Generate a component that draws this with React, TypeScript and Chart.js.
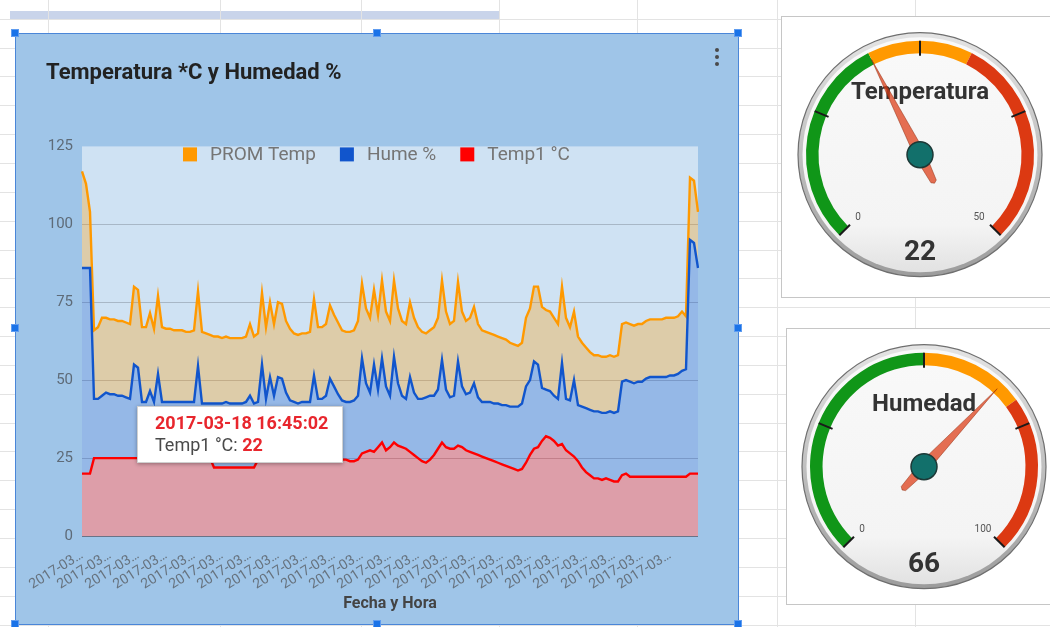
import React, { useEffect, useRef } from "react";
import { Chart, registerables } from "chart.js";

Chart.register(...registerables);

const FONT = "Roboto, 'Liberation Sans', Arial, sans-serif";
Chart.defaults.font.family = FONT;

// ---------------- data ----------------
const CHART_TITLE = "Temperatura *C y Humedad %";
const X_TITLE = "Fecha y Hora";
const SERIES_NAMES = ["PROM Temp", "Hume %", "Temp1 °C"];

const CATEGORIES = [
  "2017-03-17 02:45:02", "2017-03-17 03:45:02", "2017-03-17 04:45:02", "2017-03-17 05:45:02", "2017-03-17 06:45:02", "2017-03-17 07:45:02",
  "2017-03-17 08:45:02", "2017-03-17 09:45:02", "2017-03-17 10:45:02", "2017-03-17 11:45:02", "2017-03-17 12:45:02", "2017-03-17 13:45:02",
  "2017-03-17 14:45:02", "2017-03-17 15:45:02", "2017-03-17 16:45:02", "2017-03-17 17:45:02", "2017-03-17 18:45:02", "2017-03-17 19:45:02",
  "2017-03-17 20:45:02", "2017-03-17 21:45:02", "2017-03-17 22:45:02", "2017-03-17 23:45:02",
  "2017-03-18 00:45:02", "2017-03-18 01:45:02", "2017-03-18 02:45:02", "2017-03-18 03:45:02", "2017-03-18 04:45:02", "2017-03-18 05:45:02",
  "2017-03-18 06:45:02", "2017-03-18 07:45:02", "2017-03-18 08:45:02", "2017-03-18 09:45:02", "2017-03-18 10:45:02", "2017-03-18 11:45:02",
  "2017-03-18 12:45:02", "2017-03-18 13:45:02", "2017-03-18 14:45:02", "2017-03-18 15:45:02", "2017-03-18 16:45:02", "2017-03-18 17:45:02",
  "2017-03-18 18:45:02", "2017-03-18 19:45:02", "2017-03-18 20:45:02", "2017-03-18 21:45:02", "2017-03-18 22:45:02", "2017-03-18 23:45:02",
  "2017-03-19 00:45:02", "2017-03-19 01:45:02", "2017-03-19 02:45:02", "2017-03-19 03:45:02", "2017-03-19 04:45:02", "2017-03-19 05:45:02",
  "2017-03-19 06:45:02", "2017-03-19 07:45:02", "2017-03-19 08:45:02", "2017-03-19 09:45:02", "2017-03-19 10:45:02", "2017-03-19 11:45:02",
  "2017-03-19 12:45:02", "2017-03-19 13:45:02", "2017-03-19 14:45:02", "2017-03-19 15:45:02", "2017-03-19 16:45:02", "2017-03-19 17:45:02",
  "2017-03-19 18:45:02", "2017-03-19 19:45:02", "2017-03-19 20:45:02", "2017-03-19 21:45:02", "2017-03-19 22:45:02", "2017-03-19 23:45:02",
  "2017-03-20 00:45:02", "2017-03-20 01:45:02", "2017-03-20 02:45:02", "2017-03-20 03:45:02", "2017-03-20 04:45:02", "2017-03-20 05:45:02",
  "2017-03-20 06:45:02", "2017-03-20 07:45:02", "2017-03-20 08:45:02", "2017-03-20 09:45:02", "2017-03-20 10:45:02", "2017-03-20 11:45:02",
  "2017-03-20 12:45:02", "2017-03-20 13:45:02", "2017-03-20 14:45:02", "2017-03-20 15:45:02", "2017-03-20 16:45:02", "2017-03-20 17:45:02",
  "2017-03-20 18:45:02", "2017-03-20 19:45:02", "2017-03-20 20:45:02", "2017-03-20 21:45:02", "2017-03-20 22:45:02", "2017-03-20 23:45:02",
  "2017-03-21 00:45:02", "2017-03-21 01:45:02", "2017-03-21 02:45:02", "2017-03-21 03:45:02", "2017-03-21 04:45:02", "2017-03-21 05:45:02",
  "2017-03-21 06:45:02", "2017-03-21 07:45:02", "2017-03-21 08:45:02", "2017-03-21 09:45:02", "2017-03-21 10:45:02", "2017-03-21 11:45:02",
  "2017-03-21 12:45:02", "2017-03-21 13:45:02", "2017-03-21 14:45:02", "2017-03-21 15:45:02", "2017-03-21 16:45:02", "2017-03-21 17:45:02",
  "2017-03-21 18:45:02", "2017-03-21 19:45:02", "2017-03-21 20:45:02", "2017-03-21 21:45:02", "2017-03-21 22:45:02", "2017-03-21 23:45:02",
  "2017-03-22 00:45:02", "2017-03-22 01:45:02", "2017-03-22 02:45:02", "2017-03-22 03:45:02", "2017-03-22 04:45:02", "2017-03-22 05:45:02",
  "2017-03-22 06:45:02", "2017-03-22 07:45:02", "2017-03-22 08:45:02", "2017-03-22 09:45:02", "2017-03-22 10:45:02", "2017-03-22 11:45:02",
  "2017-03-22 12:45:02", "2017-03-22 13:45:02", "2017-03-22 14:45:02", "2017-03-22 15:45:02", "2017-03-22 16:45:02", "2017-03-22 17:45:02",
  "2017-03-22 18:45:02", "2017-03-22 19:45:02", "2017-03-22 20:45:02", "2017-03-22 21:45:02", "2017-03-22 22:45:02", "2017-03-22 23:45:02",
  "2017-03-23 00:45:02", "2017-03-23 01:45:02", "2017-03-23 02:45:02", "2017-03-23 03:45:02", "2017-03-23 04:45:02", "2017-03-23 05:45:02",
  "2017-03-23 06:45:02", "2017-03-23 07:45:02", "2017-03-23 08:45:02", "2017-03-23 09:45:02", "2017-03-23 10:45:02", "2017-03-23 11:45:02",
  "2017-03-23 12:45:02",
];

// stacked area series (Temp1 at the bottom, Hume % on it, PROM Temp on top)
const PROM_TEMP = [
  31, 27, 18,
  22, 23, 25, 24, 24, 24, 24, 24, 24, 24,
  25, 25, 24, 24, 25, 23.5, 25, 24,
  23.5, 23.5, 23, 23, 23, 22.5, 22.5, 23,
  24, 23, 22.5, 22,
  21.5, 21.5, 21, 21, 21, 21, 21, 21, 21, 23, 21.5,
  22, 23, 23, 24, 23, 24, 24, 23,
  23, 22, 22, 22, 22, 22.5,
  24.5, 23, 23, 23, 23.5, 23, 23, 22.5,
  22.5, 22.5, 22.5, 24,
  24, 24, 24, 24, 24, 25, 24, 24, 24.5, 24,
  24, 24, 24, 24, 23, 21.5, 20.5, 21, 22, 23,
  25.5, 25, 23.5, 24, 25.5, 24, 23.5, 24, 24.5, 23.5,
  23, 22.5, 22, 22, 21.5, 21.5, 21, 20.5, 20, 19.5, 19.5,
  22, 23, 24, 25, 26, 25.5, 25.5, 25, 24,
  24.5, 26, 23.5, 22, 22,
  20.5, 19.5, 18.5, 18, 18, 18, 18, 18, 18, 18,
  18.5, 18.5, 18.5, 18.5, 18.5, 18.5, 18.5, 18.5, 18.5, 18.5, 18.5,
  19, 18.5, 18.5, 18.5, 19, 17,
  20, 20, 18,
];

const HUME = [
  66, 66, 66,
  19, 19, 20, 21, 20.5, 20.5, 20, 20, 19.5, 19,
  30, 29, 18, 18, 21.5, 18, 27, 18,
  18, 18, 18, 18, 18, 18, 18, 18,
  29.5, 17.5, 17.5, 17.5,
  20.5, 20.5, 20.5, 21, 20.5, 20.5, 20.5, 20.5, 21, 23, 20.5,
  18.5, 30.5, 19.5, 26.5, 20.5, 26.5, 26, 21.5,
  19, 18.5, 18, 18.5, 18.5, 18.5,
  27, 19.5, 19.5, 20.5, 26, 23.5, 21, 19,
  18.5, 19, 19.5, 20.5,
  30.5, 22, 18.5, 28, 18.5, 27, 20.5, 16.5, 27.5, 20,
  16.5, 16, 24, 20, 19, 20, 21, 20.5, 19, 19,
  26.5, 18.5, 16.5, 17, 27, 19.5, 18, 19, 22.5, 18.5,
  17.5, 18, 18.5, 18.5, 19, 19, 19.5, 19.5, 20, 20.5, 21,
  24.5, 24, 28, 26.5, 17, 15, 15, 14.5, 15,
  26, 16.5, 17, 24.5, 18,
  19.5, 20.5, 21, 21.5, 21.5, 21.5, 21, 22, 22, 22.5,
  30, 30, 30.5, 30, 30.5, 30.5, 31.5, 32, 32, 32, 32,
  32, 32.5, 32.5, 33, 34, 34.5,
  75, 74, 66,
];

const TEMP1 = [
  20, 20, 20,
  25, 25, 25, 25, 25, 25, 25, 25, 25, 25,
  25, 25, 25, 25, 25, 25, 25, 25,
  25, 25, 25, 25, 25, 25, 25, 25,
  25, 25, 25, 25,
  22, 22, 22, 22, 22, 22, 22, 22, 22, 22, 22,
  24.5, 24.5, 24.5, 24.5, 24.5, 24.5, 24.5, 24.5,
  24.5, 24.5, 24.5, 24.5, 24.5, 24.5,
  24.5, 24.5, 24.5, 24.5, 24.5, 24.5, 24.5, 24.5,
  24.5, 24, 24, 24.5,
  26.5, 27, 27.5, 27, 28.5, 30, 27.5, 28.5, 30, 29,
  28.5, 28, 27, 26, 25, 24, 23.5, 24.5, 26, 28,
  30, 28.5, 28, 28, 29, 28.5, 27.5, 27, 26.5, 26,
  25.5, 25, 24.5, 24, 23.5, 23, 22.5, 22, 21.5, 21, 21.5,
  23.5, 26, 28, 28.5, 30.5, 32, 31.5, 30.5, 29,
  29.5, 27.5, 26.5, 25.5, 24,
  22, 20.5, 19.5, 18.5, 18.5, 18, 18.5, 18, 17.5, 17.5,
  19.5, 20, 19, 19, 19, 19, 19, 19, 19, 19, 19,
  19, 19, 19, 19, 19, 19,
  20, 20, 20,
];

const Y_TICKS = [0, 25, 50, 75, 100, 125];
const X_LABEL_EVERY = 7;
const X_LABEL_COUNT = 22;
const TOOLTIP_INDEX = 38;

const TEMP_GAUGE_TITLE = "Temperatura";
const TEMP_GAUGE_VALUE = 22;
const TEMP_GAUGE_NEEDLE = 20;
const TEMP_GAUGE_RANGE = [0, 50];
const TEMP_GAUGE_BANDS = [20, 10, 20];
const TEMP_GAUGE_TICKS = [0, 12.5, 25, 37.5, 50];

const HUM_GAUGE_TITLE = "Humedad";
const HUM_GAUGE_VALUE = 66;
const HUM_GAUGE_NEEDLE = 66;
const HUM_GAUGE_RANGE = [0, 100];
const HUM_GAUGE_BANDS = [50, 20, 30];
const HUM_GAUGE_TICKS = [0, 25, 50, 75, 100];

// ---------------- styles ----------------
const LINE_COLORS = ["#ff9900", "#1155cc", "#ff0000"];
const FILL_COLORS = ["rgba(255,153,0,0.3)", "rgba(17,85,204,0.3)", "rgba(255,0,0,0.3)"];
const BAND_COLORS = ["#109618", "#ff9900", "#dc3912"];

function MainChart() {
  const ref = useRef<HTMLCanvasElement | null>(null);
  useEffect(() => {
    const canvas = ref.current;
    if (!canvas) return;

    const plotBg = {
      id: "plotBg",
      beforeDraw(chart: any) {
        const { ctx, chartArea: a } = chart;
        ctx.save();
        ctx.fillStyle = "#cfe2f3";
        ctx.fillRect(a.left, a.top, a.right - a.left, a.bottom - a.top);
        ctx.restore();
      },
    };

    const topLegend = {
      id: "topLegend",
      afterDraw(chart: any) {
        const { ctx, chartArea: a } = chart;
        ctx.save();
        ctx.font = `19px ${FONT}`;
        ctx.textBaseline = "middle";
        ctx.textAlign = "left";
        let x = a.left + 101;
        const y = a.top + 8;
        chart.data.datasets.forEach((ds: any, i: number) => {
          ctx.fillStyle = LINE_COLORS[i];
          ctx.fillRect(x, y - 7, 14, 14);
          x += 27;
          ctx.fillStyle = "#757575";
          ctx.fillText(ds.label, x, y + 1);
          x += ctx.measureText(ds.label).width + 24;
        });
        ctx.restore();
      },
    };

    const fixedTip = {
      id: "fixedTip",
      afterDraw(chart: any) {
        const { ctx } = chart;
        const pt = chart.getDatasetMeta(2).data[TOOLTIP_INDEX];
        if (!pt) return;
        const left = Math.round(pt.x - 97);
        const top = Math.round(pt.y - 61);
        const w = 206;
        const h = 57;
        ctx.save();
        ctx.shadowColor = "rgba(0,0,0,0.35)";
        ctx.shadowBlur = 4;
        ctx.shadowOffsetY = 1;
        ctx.fillStyle = "#ffffff";
        ctx.fillRect(left, top, w, h);
        ctx.shadowColor = "rgba(0,0,0,0)";
        ctx.strokeStyle = "#d0d0d0";
        ctx.lineWidth = 1;
        ctx.strokeRect(left + 0.5, top + 0.5, w - 1, h - 1);
        ctx.textBaseline = "middle";
        ctx.textAlign = "left";
        ctx.font = `bold 18px ${FONT}`;
        ctx.fillStyle = "#e8262d";
        ctx.fillText(CATEGORIES[TOOLTIP_INDEX], left + 18, top + 18);
        const lbl = SERIES_NAMES[2] + ": ";
        ctx.font = `18px ${FONT}`;
        ctx.fillStyle = "#4a4a4a";
        ctx.fillText(lbl, left + 18, top + 40);
        const lw = ctx.measureText(lbl).width;
        ctx.font = `bold 18px ${FONT}`;
        ctx.fillStyle = "#e8262d";
        ctx.fillText(String(TEMP1[TOOLTIP_INDEX]), left + 18 + lw, top + 40);
        ctx.restore();
      },
    };

    const chart = new Chart(canvas, {
      type: "line",
      data: {
        labels: CATEGORIES,
        datasets: [
          { label: SERIES_NAMES[0], data: PROM_TEMP, borderColor: LINE_COLORS[0], backgroundColor: FILL_COLORS[0], fill: "+1", order: 3 },
          { label: SERIES_NAMES[1], data: HUME, borderColor: LINE_COLORS[1], backgroundColor: FILL_COLORS[1], fill: "+1", order: 2 },
          { label: SERIES_NAMES[2], data: TEMP1, borderColor: LINE_COLORS[2], backgroundColor: FILL_COLORS[2], fill: "origin", order: 1 },
        ],
      },
      options: {
        responsive: false,
        animation: false,
        devicePixelRatio: 1,
        events: [],
        elements: { point: { radius: 0 }, line: { borderWidth: 2.4, tension: 0 } },
        layout: { padding: { left: 30, right: 40, top: 0, bottom: 10 } },
        plugins: {
          legend: { display: false },
          tooltip: { enabled: false },
          title: {
            display: true,
            text: CHART_TITLE,
            align: "start",
            color: "#222222",
            font: { family: FONT, size: 22, weight: "bold" },
            padding: { top: 26, bottom: 60 },
          },
        },
        scales: {
          x: {
            grid: { display: false },
            border: { display: false },
            ticks: {
              autoSkip: false,
              minRotation: 32,
              maxRotation: 32,
              padding: 3,
              color: "#67737f",
              font: { family: FONT, size: 14 },
              callback: (_v: any, i: number) =>
                i % X_LABEL_EVERY === 0 && i / X_LABEL_EVERY < X_LABEL_COUNT
                  ? CATEGORIES[i].slice(0, 7) + "…"
                  : "",
            },
            title: {
              display: true,
              text: X_TITLE,
              color: "#444444",
              font: { family: FONT, size: 16, weight: "bold" },
              padding: { top: 0, bottom: 0 },
            },
            afterFit: (s: any) => {
              s.height = 78;
            },
          },
          y: {
            stacked: true,
            min: 0,
            max: 125,
            afterBuildTicks: (s: any) => {
              s.ticks = Y_TICKS.map((v) => ({ value: v }));
            },
            border: { display: false },
            grid: {
              drawTicks: false,
              lineWidth: 1,
              color: (c: any) =>
                c.tick && c.tick.value === 0
                  ? "rgba(70,60,70,0.6)"
                  : c.tick && c.tick.value === 125
                  ? "rgba(0,0,0,0)"
                  : "rgba(110,120,130,0.4)",
            },
            ticks: { padding: 9, color: "#5e6b78", font: { family: FONT, size: 15 } },
            afterFit: (s: any) => {
              s.width = 36;
            },
          },
        },
      },
      plugins: [plotBg, topLegend, fixedTip],
    } as any);
    return () => chart.destroy();
  }, []);
  return <canvas ref={ref} width={722} height={590} style={{ position: "absolute", left: 16, top: 34 }} />;
}

function Gauge(props: {
  title: string;
  value: number;
  needle: number;
  range: number[];
  bands: number[];
  ticks: number[];
  left: number;
  top: number;
}) {
  const ref = useRef<HTMLCanvasElement | null>(null);
  useEffect(() => {
    const canvas = ref.current;
    if (!canvas) return;
    const [min, max] = props.range;
    const ang = (v: number) => ((-135 + ((v - min) / (max - min)) * 270) * Math.PI) / 180;
    const pos = (cx: number, cy: number, a: number, r: number) => [cx + r * Math.sin(a), cy - r * Math.cos(a)];

    const face = {
      id: "gaugeFace",
      beforeDatasetsDraw(chart: any) {
        const arc = chart.getDatasetMeta(0).data[0];
        const cx = arc.x;
        const cy = arc.y;
        const ctx = chart.ctx;
        ctx.save();
        const g = ctx.createLinearGradient(0, cy - 122, 0, cy + 122);
        g.addColorStop(0, "#e4e4e4");
        g.addColorStop(1, "#9c9c9c");
        ctx.beginPath();
        ctx.arc(cx, cy, 122, 0, Math.PI * 2);
        ctx.fillStyle = g;
        ctx.fill();
        ctx.lineWidth = 1.2;
        ctx.strokeStyle = "#6f6f6f";
        ctx.stroke();
        const f = ctx.createLinearGradient(0, cy - 117, 0, cy + 117);
        f.addColorStop(0, "#f9f9f9");
        f.addColorStop(0.8, "#f4f4f4");
        f.addColorStop(1, "#e2e2e2");
        ctx.beginPath();
        ctx.arc(cx, cy, 117.5, 0, Math.PI * 2);
        ctx.fillStyle = f;
        ctx.fill();
        ctx.restore();
      },
      afterDatasetsDraw(chart: any) {
        const arc = chart.getDatasetMeta(0).data[0];
        const cx = arc.x;
        const cy = arc.y;
        const ctx = chart.ctx;
        ctx.save();
        // ticks
        ctx.strokeStyle = "#1a1a1a";
        ctx.lineWidth = 2;
        props.ticks.forEach((t) => {
          const a = ang(t);
          const [x1, y1] = pos(cx, cy, a, 99);
          const [x2, y2] = pos(cx, cy, a, 114);
          ctx.beginPath();
          ctx.moveTo(x1, y1);
          ctx.lineTo(x2, y2);
          ctx.stroke();
        });
        // min / max labels
        ctx.font = `10px ${FONT}`;
        ctx.fillStyle = "#555555";
        ctx.textBaseline = "middle";
        ctx.textAlign = "center";
        ctx.fillText(String(min), cx - 62, cy + 63);
        ctx.fillText(String(max), cx + 59, cy + 63);
        // title
        ctx.font = `bold 24px ${FONT}`;
        ctx.fillStyle = "#333333";
        ctx.textBaseline = "alphabetic";
        ctx.fillText(props.title, cx, cy - 56);
        // value
        ctx.font = `bold 28px ${FONT}`;
        ctx.fillText(String(props.value), cx, cy + 105);
        // needle
        const a = ang(props.needle);
        const ux = Math.sin(a);
        const uy = -Math.cos(a);
        const px = -uy;
        const py = ux;
        ctx.beginPath();
        ctx.moveTo(cx + ux * 107, cy + uy * 107);
        ctx.lineTo(cx + px * 5.5, cy + py * 5.5);
        ctx.lineTo(cx - ux * 30 + px * 3, cy - uy * 30 + py * 3);
        ctx.lineTo(cx - ux * 32, cy - uy * 32);
        ctx.lineTo(cx - ux * 30 - px * 3, cy - uy * 30 - py * 3);
        ctx.lineTo(cx - px * 5.5, cy - py * 5.5);
        ctx.closePath();
        ctx.fillStyle = "rgba(220,57,18,0.72)";
        ctx.fill();
        ctx.lineWidth = 0.8;
        ctx.strokeStyle = "rgba(140,40,10,0.6)";
        ctx.stroke();
        // hub
        ctx.beginPath();
        ctx.arc(cx, cy, 13, 0, Math.PI * 2);
        ctx.fillStyle = "#12706b";
        ctx.fill();
        ctx.lineWidth = 1.5;
        ctx.strokeStyle = "#1d3836";
        ctx.stroke();
        ctx.restore();
      },
    };

    const chart = new Chart(canvas, {
      type: "doughnut",
      data: {
        labels: ["verde", "amarillo", "rojo"],
        datasets: [{ data: props.bands, backgroundColor: BAND_COLORS, borderWidth: 0 }],
      },
      options: {
        responsive: false,
        animation: false,
        devicePixelRatio: 1,
        events: [],
        rotation: -135,
        circumference: 270,
        radius: 114,
        cutout: "89%",
        plugins: { legend: { display: false }, tooltip: { enabled: false } },
      },
      plugins: [face],
    } as any);
    return () => chart.destroy();
  }, []);
  return (
    <canvas
      ref={ref}
      width={250}
      height={280}
      style={{ position: "absolute", left: props.left, top: props.top }}
    />
  );
}

const ROW_LINES = Array.from({ length: 22 }, (_, k) => 18.7 + 28.85 * k);
const COL_LINES = [48, 220, 361, 499, 637, 777, 915];
const HANDLES = [
  [15, 33], [377, 33], [738, 33],
  [15, 328], [738, 328],
  [15, 624], [377, 624], [738, 624],
];

export default function App() {
  return (
    <div
      style={{
        position: "fixed",
        left: 0,
        top: 0,
        width: 1050,
        height: 627,
        background: "#ffffff",
        overflow: "hidden",
        fontFamily: FONT,
      }}
    >
      <div style={{ position: "absolute", left: 10, top: 11, width: 489, height: 9, background: "#c9d4ea" }} />
      {ROW_LINES.map((y, i) => (
        <div key={"r" + i} style={{ position: "absolute", left: 0, top: Math.round(y), width: 1050, height: 1, background: "#e3e3e3" }} />
      ))}
      {COL_LINES.map((x, i) => (
        <div key={"c" + i} style={{ position: "absolute", left: x, top: 0, width: 1, height: 627, background: "#e3e3e3" }} />
      ))}

      <div
        style={{
          position: "absolute",
          left: 15,
          top: 33,
          width: 722,
          height: 590,
          background: "#9fc5e8",
          border: "1px solid #4a86d8",
        }}
      />
      <MainChart />
      {[50, 57, 64].map((y) => (
        <div key={"d" + y} style={{ position: "absolute", left: 715, top: y - 2, width: 4, height: 4, borderRadius: 2, background: "#4a4a4a" }} />
      ))}
      {HANDLES.map(([x, y], i) => (
        <div
          key={"h" + i}
          style={{ position: "absolute", left: x - 4, top: y - 4, width: 8, height: 8, background: "#1a73e8", boxSizing: "border-box", border: "1px solid #5f9cf0" }}
        />
      ))}

      <div style={{ position: "absolute", left: 781, top: 16, width: 280, height: 280, background: "#ffffff", border: "1px solid #c6c6c6" }} />
      <div style={{ position: "absolute", left: 786, top: 328, width: 280, height: 275, background: "#ffffff", border: "1px solid #c6c6c6" }} />
      <Gauge
        title={TEMP_GAUGE_TITLE}
        value={TEMP_GAUGE_VALUE}
        needle={TEMP_GAUGE_NEEDLE}
        range={TEMP_GAUGE_RANGE}
        bands={TEMP_GAUGE_BANDS}
        ticks={TEMP_GAUGE_TICKS}
        left={795}
        top={-2}
      />
      <Gauge
        title={HUM_GAUGE_TITLE}
        value={HUM_GAUGE_VALUE}
        needle={HUM_GAUGE_NEEDLE}
        range={HUM_GAUGE_RANGE}
        bands={HUM_GAUGE_BANDS}
        ticks={HUM_GAUGE_TICKS}
        left={799}
        top={310}
      />
    </div>
  );
}
